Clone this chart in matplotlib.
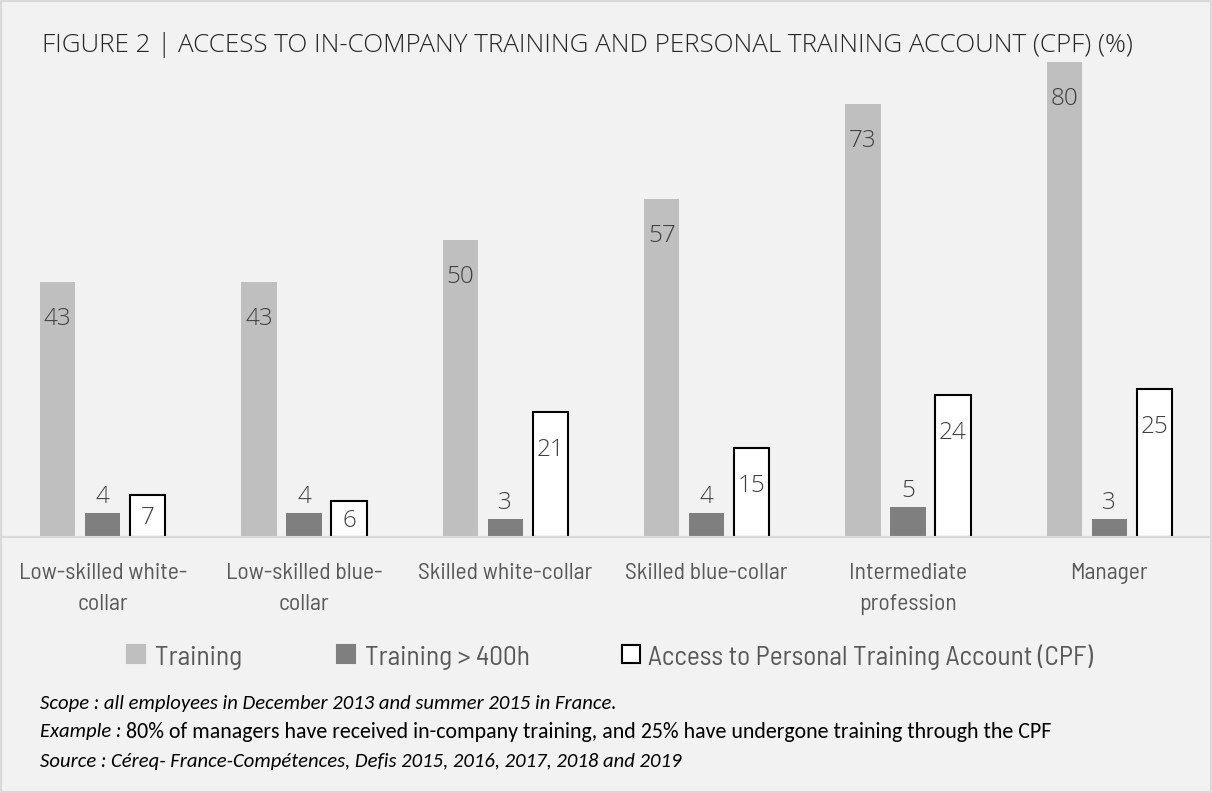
import numpy as np
import matplotlib
matplotlib.use("Agg")
import matplotlib.pyplot as plt
from matplotlib.patches import Rectangle

categories = ["Low-skilled white-\ncollar", "Low-skilled blue-\ncollar", "Skilled white-collar",
              "Skilled blue-collar", "Intermediate\nprofession", "Manager"]
training = [43, 43, 50, 57, 73, 80]
training_400h = [4, 4, 3, 4, 5, 3]
cpf_access = [7, 6, 21, 15, 24, 25]
series_names = ["Training", "Training > 400h", "Access to Personal Training Account (CPF)"]
colors = ["#bfbfbf", "#7f7f7f", "#ffffff"]

narrow = ["Barlow Semi Condensed", "DejaVu Sans"]
light = ["Open Sans Light", "Open Sans", "DejaVu Sans"]
notes = ["Carlito", "Lato", "DejaVu Sans"]

W, H = 1212, 793
fig = plt.figure(figsize=(W / 100, H / 100), dpi=100, facecolor="#f2f2f2")
fig.add_artist(Rectangle((0, 0), 1, 1, transform=fig.transFigure, fill=False,
                         edgecolor="#d9d9d9", linewidth=3))

# plot area: baseline at y=537 px, ~5.93 px per percentage point
ppu = 5.934
ax = fig.add_axes([2 / W, (H - 537) / H, 1208 / W, 85 * ppu / H])
ax.set_facecolor("none")
x = np.arange(len(categories))
w, off = 0.176, 0.223
b1 = ax.bar(x - off, training, w, color=colors[0])
b2 = ax.bar(x, training_400h, w, color=colors[1])
b3 = ax.bar(x + off, cpf_access, w, color=colors[2], edgecolor="black", linewidth=1.5)
ax.set_xlim(-0.5, 5.5)
ax.set_ylim(0, 85)
for s in ["top", "right", "left"]:
    ax.spines[s].set_visible(False)
ax.spines["bottom"].set_color("#d9d9d9")
ax.spines["bottom"].set_linewidth(1.5)
ax.set_yticks([])
ax.set_xticks(x)
ax.set_xticklabels(categories, fontsize=17, color="#595959", family=narrow, linespacing=1.6)
ax.tick_params(axis="x", length=0, pad=19)

vfont = dict(fontsize=17.5, color="#404040", family=light, fontweight="light", ha="center", va="center")
for r, v in zip(b1, training):
    ax.annotate(str(v), (r.get_x() + r.get_width() / 2, v), xytext=(0, -37),
                textcoords="offset pixels", **vfont)
for r, v in zip(b2, training_400h):
    ax.annotate(str(v), (r.get_x() + r.get_width() / 2, v), xytext=(0, 16),
                textcoords="offset pixels", **vfont)
for r, v in zip(b3, cpf_access):
    d = min(38, v * ppu / 2 + 2)
    ax.annotate(str(v), (r.get_x() + r.get_width() / 2, v), xytext=(0, -d),
                textcoords="offset pixels", **vfont)

fig.text(42 / W, 1 - 52 / H,
         "FIGURE 2 | ACCESS TO IN-COMPANY TRAINING AND PERSONAL TRAINING ACCOUNT (CPF) (%)",
         fontsize=18.7, family=light, fontweight="light", color="#262626", va="baseline")

# legend
leg_x = [127, 337, 622]
txt_x = [155, 365, 648]
for lx, tx, name, c in zip(leg_x, txt_x, series_names, colors):
    fig.add_artist(Rectangle((lx / W, 1 - 663 / H), 18 / W, 18 / H, transform=fig.transFigure,
                             facecolor=c, edgecolor="black" if c == "#ffffff" else c, linewidth=1.5))
    fig.text(tx / W, 1 - 665 / H, name, fontsize=19.7, family=narrow, color="#595959", va="baseline")

nfont = dict(fontsize=14.9, family=notes, color="#000000", va="center")
fig.text(40 / W, 1 - 703 / H, "Scope : all employees in December 2013 and summer 2015 in France.",
         style="italic", **nfont)
t = fig.text(40 / W, 1 - 732 / H, "Example :", style="italic", **nfont)
ax.annotate(" 80% of managers have received in-company training, and 25% have undergone training through the CPF",
            xy=(1, 0.5), xycoords=t, va="center", ha="left", fontsize=15.75, family=notes,
            color="#000000", annotation_clip=False)
fig.text(40 / W, 1 - 761 / H, "Source : Céreq- France-Compétences, Defis 2015, 2016, 2017, 2018 and 2019",
         style="italic", **nfont)

fig.savefig("out.png", dpi=100, facecolor=fig.get_facecolor())
